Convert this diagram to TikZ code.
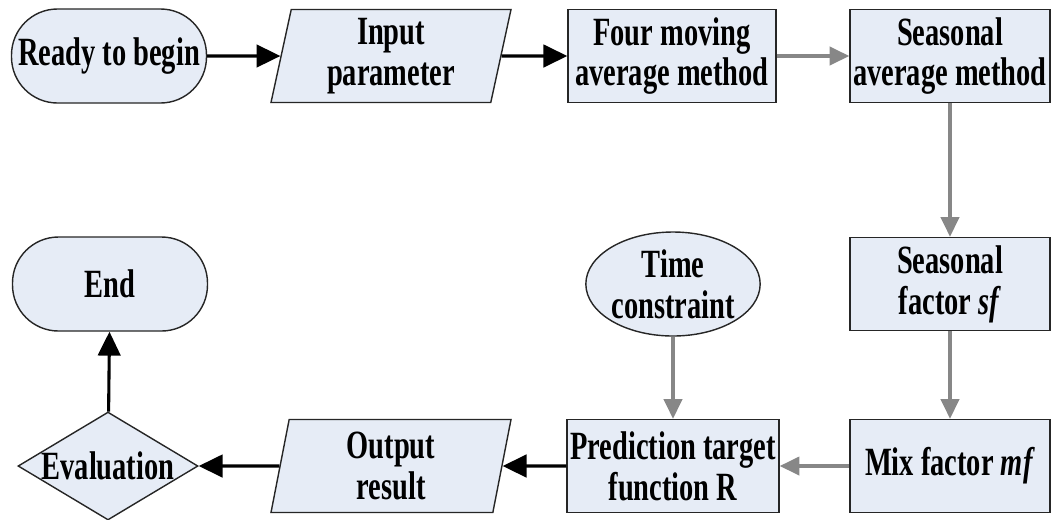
\documentclass[tikz,border=0pt]{standalone}
\usepackage{fontspec}
\setmainfont{Liberation Serif}[FakeStretch=0.71]
\usepackage{xcolor}
\usetikzlibrary{shapes.geometric,arrows.meta}
\definecolor{boxfill}{RGB}{230,236,246}
\definecolor{linkgray}{RGB}{135,135,135}
\tikzset{>={Triangle[length=17pt,width=16pt]}}
\tikzset{
    every node/.style={font=\fontsize{28.5}{29}\selectfont\bfseries, align=center, inner sep=0pt},
    base/.style={draw=black!85, line width=1pt, fill=boxfill},
    terminal/.style={base, rectangle, rounded corners=1.15cm, minimum width=4.875cm, minimum height=2.35cm},
    process/.style={base, rectangle, minimum width=5.2cm, minimum height=2.325cm},
    io/.style={base, trapezium, trapezium left angle=75, trapezium right angle=105, trapezium stretches body, minimum width=6cm, minimum height=2.325cm},
    cond/.style={base, ellipse, minimum width=4cm, minimum height=2.6cm},
    decision/.style={base, diamond, aspect=1.67, inner sep=-6pt, minimum width=4.5cm, minimum height=2.7cm},
    flow/.style={->, line width=2.2pt, black},
    flowgray/.style={-{Triangle[length=14pt,width=13pt]}, line width=2.2pt, linkgray},
}

\begin{document}
\begin{tikzpicture}
    \pgfmathsetmacro{\topy}{-1.4}
    \pgfmathsetmacro{\midy}{-7.1}
    \pgfmathsetmacro{\boty}{-11.65}
    \useasboundingbox (0,0) rectangle (26.275,-12.975);
    % top row
    \node[terminal] (ready) at (2.725,\topy) {Ready to begin};
    \node[io] (input) at (9.775,\topy) {Input\\parameter};
    \node[process] (four) at (16.8,\topy) {Four moving\\average method};
    \node[process, minimum width=5cm] (seasavg) at (23.75,\topy) {Seasonal\\average method};
    % middle row
    \node[terminal] (end) at (2.75,\midy) {End};
    \node[cond] (time) at (16.825,\midy) {Time\\constraint};
    \node[process, minimum width=5cm] (sf) at (23.75,\midy) {Seasonal\\factor \textit{sf}};
    % bottom row
    \node[decision] (eval) at (2.7,\boty) {Evaluation};
    \node[io] (output) at (9.775,\boty) {Output\\result};
    \node[process, minimum width=5.3cm] (pred) at (16.825,\boty) {Prediction target\\function R};
    \node[process, minimum width=5cm] (mf) at (23.75,\boty) {Mix factor \textit{mf}};
    % links
    \draw[flow] (ready) -- (input);
    \draw[flow] (input) -- (four);
    \draw[flowgray] (four) -- (seasavg);
    \draw[flowgray] (seasavg) -- (sf);
    \draw[flowgray] (sf) -- (mf);
    \draw[flowgray] (mf) -- (pred);
    \draw[flowgray] (time) -- (pred);
    \draw[flow] (pred) -- (output);
    \draw[flow] (output) -- (eval);
    \draw[flow] (eval) -- (end);
\end{tikzpicture}
\end{document}
